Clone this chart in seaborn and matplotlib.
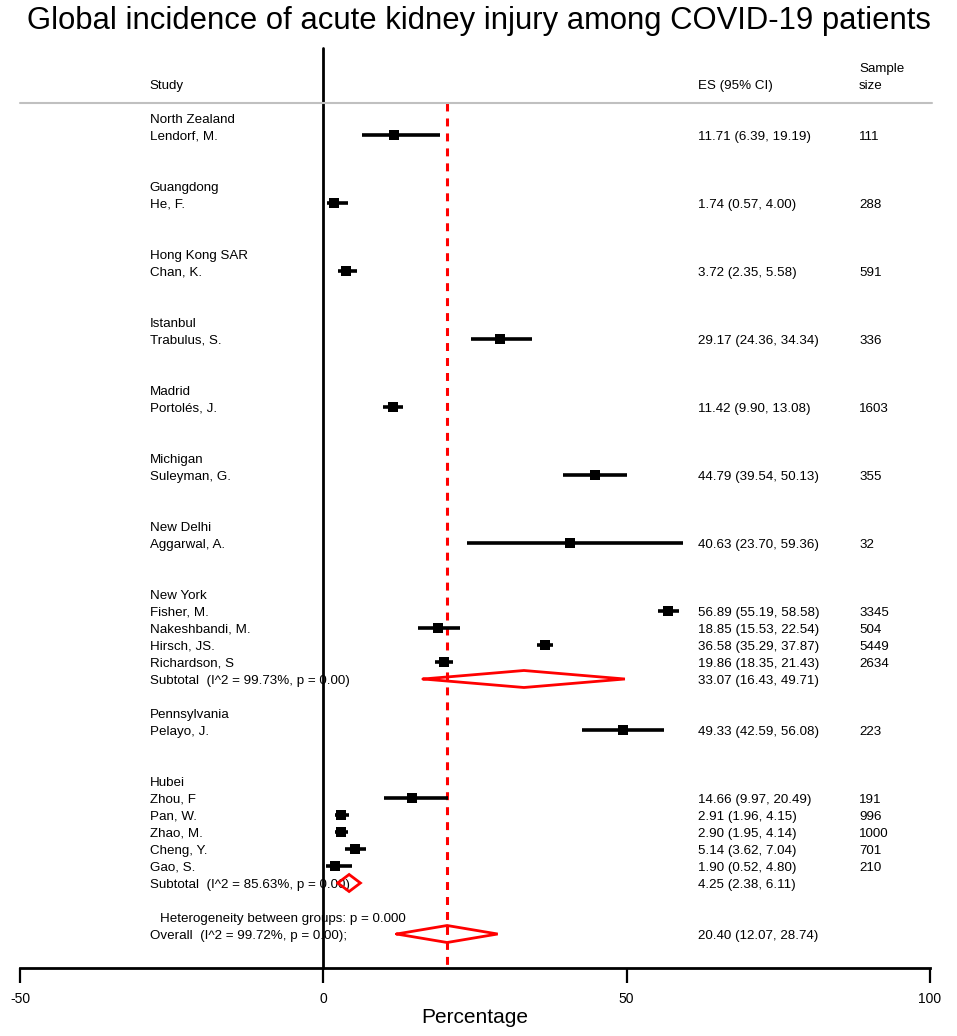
"""Forest plot: incidencia global de AKI en pacientes COVID-19."""

import matplotlib

matplotlib.use("Agg")
import matplotlib.pyplot as plt
import numpy as np
import pandas as pd
import seaborn as sns

# --- datos ---
groups = [
    "North Zealand", "Guangdong", "Hong Kong SAR", "Istanbul", "Madrid",
    "Michigan", "New Delhi", "New York", "Pennsylvania", "Hubei",
]
study_group = [
    "North Zealand", "Guangdong", "Hong Kong SAR", "Istanbul", "Madrid",
    "Michigan", "New Delhi", "New York", "New York", "New York", "New York",
    "Pennsylvania", "Hubei", "Hubei", "Hubei", "Hubei", "Hubei",
]
study_names = [
    "Lendorf, M.", "He, F.", "Chan, K.", "Trabulus, S.", "Portolés, J.",
    "Suleyman, G.", "Aggarwal, A.", "Fisher, M.", "Nakeshbandi, M.",
    "Hirsch, JS.", "Richardson, S", "Pelayo, J.", "Zhou, F", "Pan, W.",
    "Zhao, M.", "Cheng, Y.", "Gao, S.",
]
es = [11.71, 1.74, 3.72, 29.17, 11.42, 44.79, 40.63, 56.89, 18.85, 36.58,
      19.86, 49.33, 14.66, 2.91, 2.90, 5.14, 1.90]
ci_low = [6.39, 0.57, 2.35, 24.36, 9.90, 39.54, 23.70, 55.19, 15.53, 35.29,
          18.35, 42.59, 9.97, 1.96, 1.95, 3.62, 0.52]
ci_high = [19.19, 4.00, 5.58, 34.34, 13.08, 50.13, 59.36, 58.58, 22.54, 37.87,
           21.43, 56.08, 20.49, 4.15, 4.14, 7.04, 4.80]
sample_size = [111, 288, 591, 336, 1603, 355, 32, 3345, 504, 5449, 2634,
               223, 191, 996, 1000, 701, 210]

subtotal_groups = ["New York", "Hubei"]
subtotal_es = [33.07, 4.25]
subtotal_low = [16.43, 2.38]
subtotal_high = [49.71, 6.11]
subtotal_i2 = [99.73, 85.63]

overall_es = 20.40
overall_low = 12.07
overall_high = 28.74
overall_i2 = 99.72

# --- construir tabla con filas ---
df = pd.DataFrame({
    "group": study_group, "study": study_names, "es": es,
    "lo": ci_low, "hi": ci_high, "n": sample_size,
})

row = 2
header_rows = {}
study_rows = []
sub_rows = {}
for g in groups:
    header_rows[g] = row
    row += 1
    idx = df.index[df["group"] == g]
    for i in idx:
        study_rows.append((i, row))
        row += 1
    if g in subtotal_groups:
        sub_rows[g] = row
    row += 2
het_row = row
overall_row = row + 1
df["row"] = [r for _, r in sorted(study_rows)]

sns.set_style("white")
plt.rcParams["font.family"] = ["Liberation Sans", "DejaVu Sans"]
plt.rcParams["axes.unicode_minus"] = False
plt.rcParams["text.color"] = "black"
plt.rcParams["axes.edgecolor"] = "black"
plt.rcParams["xtick.color"] = "black"
plt.rcParams["axes.labelcolor"] = "black"

fig = plt.figure(figsize=(9.57, 10.36), dpi=100)
ax = fig.add_axes([20 / 957, 1 - 968 / 1036, 910 / 957, (968 - 41.5) / 1036])
ax.set_xlim(-50, 100)
ax.set_ylim(52, -2.5)

fs = 9.6
va = "center_baseline"
x_study = -28.6
x_es = 61.7
x_n = 88.3

# cabecera
ax.text(x_study, 0, "Study", fontsize=fs, va=va, ha="left")
ax.text(x_es, 0, "ES (95% CI)", fontsize=fs, va=va, ha="left")
ax.text(x_n, -1, "Sample", fontsize=fs, va=va, ha="left")
ax.text(x_n, 0, "size", fontsize=fs, va=va, ha="left")
ax.plot([-50, 100.3], [1.12, 1.12], color="#c0c0c0", lw=1.5, clip_on=False)

# líneas de referencia
ax.plot([0, 0], [-2.1, 52], color="black", lw=2, zorder=1, clip_on=False)
ax.plot([overall_es, overall_es], [1.12, 52], color="red", lw=2.2,
        ls=(0, (2.6, 2.3)), zorder=1)

# estudios individuales
for g, r in header_rows.items():
    ax.text(x_study, r, g, fontsize=fs, va=va, ha="left")

ax.hlines(df["row"], df["lo"], df["hi"], color="black", lw=2.6, zorder=3)
sns.scatterplot(data=df, x="es", y="row", marker="s", s=62, color="black",
                edgecolor="black", linewidth=0, zorder=4, ax=ax, legend=False)
for _, r in df.iterrows():
    ax.text(x_study, r["row"], r["study"], fontsize=fs, va=va, ha="left")
    ax.text(x_es, r["row"], f"{r['es']:.2f} ({r['lo']:.2f}, {r['hi']:.2f})",
            fontsize=fs, va=va, ha="left")
    ax.text(x_n, r["row"], f"{r['n']}", fontsize=fs, va=va, ha="left")


def diamond(center, low, high, y, h=0.5):
    xs = [low, center, high, center, low]
    ys = [y, y - h, y, y + h, y]
    ax.plot(xs, ys, color="red", lw=2, zorder=5, solid_joinstyle="miter")


for g, c, lo, hi, i2 in zip(subtotal_groups, subtotal_es, subtotal_low,
                            subtotal_high, subtotal_i2):
    r = sub_rows[g]
    diamond(c, lo, hi, r)
    ax.text(x_study, r, f"Subtotal  (I^2 = {i2:.2f}%, p = 0.00)", fontsize=fs,
            va=va, ha="left", zorder=2)
    ax.text(x_es, r, f"{c:.2f} ({lo:.2f}, {hi:.2f})", fontsize=fs,
            va=va, ha="left")

ax.text(x_study + 1.7, het_row, "Heterogeneity between groups: p = 0.000",
        fontsize=fs, va=va, ha="left")
diamond(overall_es, overall_low, overall_high, overall_row)
ax.text(x_study, overall_row, f"Overall  (I^2 = {overall_i2:.2f}%, p = 0.00);",
        fontsize=fs, va=va, ha="left", zorder=2)
ax.text(x_es, overall_row,
        f"{overall_es:.2f} ({overall_low:.2f}, {overall_high:.2f})",
        fontsize=fs, va=va, ha="left")

# ejes
for s in ["top", "right", "left"]:
    ax.spines[s].set_visible(False)
ax.spines["bottom"].set_linewidth(2)
ax.set_yticks([])
ax.set_xticks([-50, 0, 50, 100])
ax.tick_params(axis="x", direction="out", length=11, width=1.6, labelsize=10,
               pad=6, bottom=True)
ax.set_xlabel("Percentage", fontsize=15, labelpad=2)
ax.set_ylabel("")

fig.text(0.5, 0.980, "Global incidence of acute kidney injury among COVID-19 patients",
         ha="center", va="center", fontsize=22.3)

fig.savefig("out.png", dpi=100)
